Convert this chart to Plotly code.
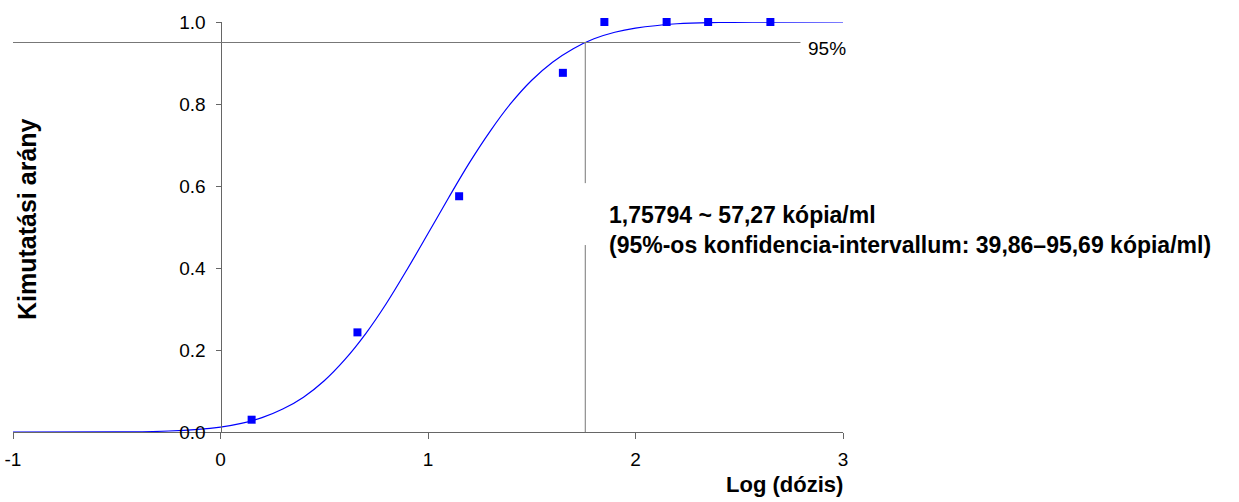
import plotly.graph_objects as go

# Observed data points (log dose, detection ratio)
obs_x = [0.15, 0.66, 1.15, 1.65, 1.85, 2.15, 2.35, 2.65]
obs_y = [0.03, 0.243, 0.575, 0.876, 1.0, 1.0, 1.0, 1.0]

# Fitted curve
fit_x = [-1.0, -0.5, -0.25, 0.0, 0.1, 0.2, 0.3, 0.4, 0.5, 0.6, 0.7, 0.8, 0.9, 1.0,
         1.1, 1.2, 1.3, 1.4, 1.5, 1.6, 1.7, 1.8, 1.9, 2.0, 2.2, 2.4, 2.6, 3.0]
fit_y = [0.0, 0.0004, 0.0024, 0.012, 0.021, 0.035, 0.056, 0.085, 0.125, 0.177, 0.240,
         0.314, 0.397, 0.484, 0.572, 0.657, 0.734, 0.802, 0.858, 0.902, 0.935, 0.959,
         0.975, 0.985, 0.9957, 0.9989, 0.9998, 1.0]

x_ticks = [-1, 0, 1, 2, 3]
y_ticks = [0.0, 0.2, 0.4, 0.6, 0.8, 1.0]
y_ticklabels = ["0.0", "0.2", "0.4", "0.6", "0.8", "1.0"]

level = 0.95
level_x = 1.75794
level_line_end = 2.795
gap_lo, gap_hi = 0.456, 0.607

FONT = "Liberation Sans, Arial, sans-serif"
AXC = "#666666"

fig = go.Figure()
fig.add_trace(go.Scatter(x=fit_x, y=fit_y, mode="lines", line=dict(color="#0000FF", width=1.2, shape="spline"),
                         showlegend=False, hoverinfo="skip", cliponaxis=False))
fig.add_trace(go.Scatter(x=obs_x, y=obs_y, mode="markers", marker=dict(symbol="square", size=8, color="#0000FF"),
                         showlegend=False, cliponaxis=False))

# 95% horizontal line
fig.add_shape(type="line", x0=-1, x1=level_line_end, y0=level, y1=level, line=dict(color="#777777", width=1))
# vertical line at the 95% point (interrupted around the label)
fig.add_shape(type="line", x0=level_x, x1=level_x, y0=0, y1=gap_lo, line=dict(color="#777777", width=1))
fig.add_shape(type="line", x0=level_x, x1=level_x, y0=gap_hi, y1=level, line=dict(color="#777777", width=1))

fig.add_annotation(x=level_line_end, y=level, xref="x", yref="y", text="95%", showarrow=False,
                   xanchor="left", yanchor="middle", xshift=6, yshift=-6,
                   font=dict(family=FONT, size=19, color="black"))
fig.add_annotation(x=level_x, y=0.493, xref="x", yref="y",
                   text="<b>1,75794 ~ 57,27 kópia/ml<br>(95%-os konfidencia-intervallum: 39,86–95,69 kópia/ml)</b>",
                   showarrow=False, xanchor="left", yanchor="middle", align="left", xshift=22,
                   font=dict(family=FONT, size=23, color="black"))
fig.add_annotation(x=3, y=0, xref="x", yref="y", text="<b>Log (dózis)</b>", showarrow=False,
                   xanchor="right", yanchor="middle", yshift=-52, xshift=2,
                   font=dict(family=FONT, size=22, color="black"))
fig.add_annotation(x=0, y=0.5, xref="paper", yref="y", text="<b>Kimutatási arány</b>", showarrow=False,
                   textangle=-90, xanchor="center", yanchor="middle", xshift=14, yshift=8,
                   font=dict(family=FONT, size=25, color="black"))

fig.update_layout(
    width=1239, height=502,
    margin=dict(l=13, r=396, t=22, b=70),
    paper_bgcolor="white", plot_bgcolor="white",
    font=dict(family=FONT, size=19, color="black"),
    xaxis=dict(range=[-1, 3], tickvals=x_ticks, ticktext=[str(v) for v in x_ticks],
               showgrid=False, zeroline=False, showline=True, linecolor=AXC, linewidth=1,
               ticks="outside", ticklen=6, tickcolor=AXC, tickfont=dict(size=19),
               ticklabelstandoff=4, anchor="y", automargin=False),
    yaxis=dict(range=[0, 1], tickvals=y_ticks, ticktext=y_ticklabels,
               showgrid=False, zeroline=False, showline=True, linecolor=AXC, linewidth=1,
               ticks="outside", ticklen=5, tickcolor=AXC, tickfont=dict(size=19),
               ticklabelstandoff=6, anchor="free", position=0.25, automargin=False),
)

fig.write_html("out.html")
